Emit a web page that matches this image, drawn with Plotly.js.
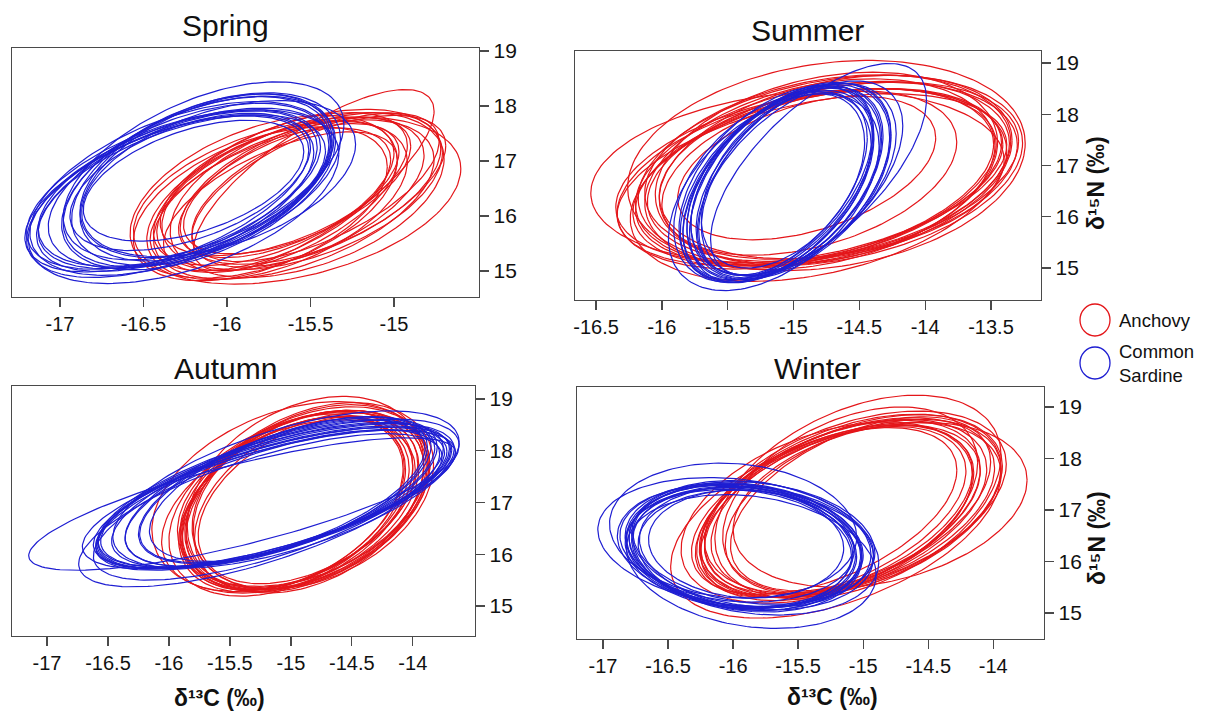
<!DOCTYPE html>
<html>
<head>
<meta charset="utf-8">
<script src="https://cdn.plot.ly/plotly-3.0.1.min.js"></script>
<style>html,body{margin:0;padding:0;background:#fff;}#chart{width:1210px;height:717px;}</style>
</head>
<body>
<div id="chart"></div>
<script>
// ---- Data: standard ellipses (centre, half-extent in x and y, correlation) ----
const panels = ["Spring", "Summer", "Autumn", "Winter"];
const species = ["Anchovy", "Common Sardine"];
const xTitle = "δ¹³C (‰)";
const yTitle = "δ¹⁵N (‰)";

// Spring - Anchovy
const springAnchovyCx = [-15.62,-15.74,-15.55,-15.68,-15.50,-15.78,-15.58,-15.70,-15.47,-15.80,-15.63,-15.52,-15.72,-15.60,-15.66,-15.45,-15.58,-15.48];
const springAnchovySx = [0.80,0.72,0.84,0.70,0.78,0.80,0.68,0.78,0.74,0.76,0.66,0.82,0.72,0.84,0.74,0.76,0.98,0.72];
const springAnchovyCy = [16.40,16.30,16.48,16.25,16.50,16.35,16.55,16.28,16.52,16.22,16.46,16.38,16.42,16.30,16.58,16.45,16.28,16.65];
const springAnchovySy = [1.40,1.30,1.46,1.28,1.38,1.48,1.24,1.44,1.35,1.40,1.22,1.50,1.32,1.45,1.30,1.38,1.52,1.65];
const springAnchovyR  = [0.50,0.56,0.46,0.60,0.52,0.45,0.58,0.49,0.62,0.48,0.58,0.44,0.55,0.50,0.54,0.60,0.38,0.76];
// Spring - Common Sardine
const springSardineCx = [-16.23,-16.32,-16.15,-16.27,-16.18,-16.36,-16.05,-16.28,-16.20,-16.34,-16.12,-16.25,-16.17,-16.30,-16.10,-16.22,-16.26,-16.14];
const springSardineSx = [0.84,0.88,0.78,0.86,0.80,0.85,0.82,0.90,0.66,0.86,0.76,0.88,0.82,0.84,0.78,0.72,0.93,0.84];
const springSardineCy = [16.55,16.48,16.66,16.44,16.62,16.40,16.68,16.50,16.64,16.36,16.70,16.52,16.60,16.45,16.74,16.62,16.35,16.82];
const springSardineSy = [1.50,1.45,1.56,1.40,1.55,1.42,1.42,1.58,1.10,1.48,1.52,1.44,1.58,1.46,1.50,1.25,1.58,1.62];
const springSardineR  = [0.50,0.54,0.46,0.53,0.48,0.56,0.44,0.51,0.48,0.54,0.46,0.52,0.48,0.55,0.44,0.50,0.49,0.52];

// Summer - Anchovy
const summerAnchovyCx = [-14.78,-14.84,-14.72,-14.82,-14.68,-14.88,-14.75,-14.90,-14.70,-14.80,-14.86,-14.74,-14.97,-14.75,-14.90,-14.81,-14.66,-14.88];
const summerAnchovySx = [1.42,1.36,1.46,1.40,1.34,1.47,1.30,1.44,1.41,1.33,1.48,1.39,1.57,1.51,0.98,1.43,1.36,1.12];
const summerAnchovyCy = [16.84,16.78,16.90,16.76,16.92,16.80,16.94,16.74,16.88,16.83,16.72,16.97,16.78,17.00,16.95,16.62,16.90,16.85];
const summerAnchovySy = [1.80,1.72,1.86,1.74,1.84,1.70,1.88,1.76,1.75,1.86,1.68,1.80,1.68,2.05,1.40,1.88,1.72,1.60];
const summerAnchovyR  = [0.33,0.37,0.29,0.39,0.31,0.36,0.27,0.38,0.34,0.30,0.41,0.28,0.19,0.21,0.42,0.35,0.29,0.38];
// Summer - Common Sardine
const summerSardineCx = [-15.07,-15.12,-15.02,-15.14,-15.04,-14.98,-15.16,-15.09,-15.00,-15.13,-15.06,-15.10,-15.03,-14.81,-15.15,-14.95,-15.08];
const summerSardineSx = [0.74,0.72,0.76,0.70,0.77,0.72,0.75,0.70,0.78,0.74,0.66,0.76,0.71,0.82,0.80,0.78,0.62];
const summerSardineCy = [16.66,16.62,16.70,16.60,16.68,16.72,16.58,16.65,16.74,16.64,16.69,16.61,16.67,16.92,16.48,16.75,16.70];
const summerSardineSy = [1.89,1.85,1.92,1.84,1.90,1.88,1.86,1.93,1.87,1.91,1.83,1.90,1.86,2.07,1.92,1.90,1.70];
const summerSardineR  = [0.47,0.49,0.45,0.51,0.46,0.48,0.44,0.50,0.47,0.46,0.52,0.48,0.49,0.66,0.47,0.54,0.44];

// Autumn - Anchovy
const autumnAnchovyCx = [-14.92,-14.97,-14.86,-15.00,-14.89,-14.84,-15.02,-14.93,-14.82,-14.98,-14.90,-14.88,-14.95,-15.00,-14.86,-15.03,-14.90,-14.85];
const autumnAnchovySx = [0.97,0.94,1.00,0.92,0.98,0.96,1.04,0.93,0.99,0.91,1.01,0.97,0.95,1.14,0.90,0.97,1.03,0.94];
const autumnAnchovyCy = [17.03,16.98,17.09,16.96,17.05,17.11,16.94,17.02,17.13,16.98,17.07,17.15,17.00,17.10,17.05,16.95,17.08,17.00];
const autumnAnchovySy = [1.72,1.67,1.76,1.69,1.73,1.78,1.66,1.74,1.80,1.68,1.71,1.90,1.67,1.85,1.62,1.76,1.70,1.73];
const autumnAnchovyR  = [0.38,0.40,0.36,0.41,0.37,0.35,0.42,0.39,0.34,0.41,0.38,0.32,0.40,0.34,0.43,0.39,0.37,0.40];
// Autumn - Common Sardine
const autumnSardineCx = [-15.11,-15.15,-15.08,-15.18,-15.05,-15.13,-15.20,-15.10,-15.02,-15.16,-15.09,-15.12,-15.25,-15.07,-15.14,-15.40,-15.04,-15.17];
const autumnSardineSx = [1.36,1.47,1.28,1.53,1.20,1.43,1.42,1.48,1.14,1.44,1.27,1.46,1.49,1.17,1.45,1.75,1.42,1.43];
const autumnSardineCy = [17.15,17.10,17.20,17.06,17.24,17.14,16.95,17.18,17.26,17.08,17.18,17.12,16.85,17.22,17.10,16.97,17.25,17.05];
const autumnSardineSy = [1.40,1.36,1.44,1.34,1.42,1.39,1.45,1.43,1.40,1.37,1.41,1.40,1.48,1.38,1.38,1.28,1.52,1.36];
const autumnSardineR  = [0.64,0.67,0.61,0.68,0.60,0.64,0.68,0.65,0.58,0.66,0.62,0.65,0.70,0.60,0.66,0.78,0.60,0.67];

// Winter - Anchovy
const winterAnchovyCx = [-15.15,-15.22,-15.08,-15.25,-15.05,-15.18,-15.28,-15.02,-15.12,-15.20,-15.06,-15.16,-14.87,-15.10,-15.21,-15.00,-15.30,-15.04];
const winterAnchovySx = [1.10,1.06,1.14,1.04,1.12,1.08,1.12,1.00,1.13,1.05,1.16,1.06,1.13,0.98,1.27,1.06,1.02,1.10];
const winterAnchovyCy = [17.03,16.98,17.08,16.96,17.10,17.02,16.95,17.12,17.05,16.94,17.15,17.01,17.10,17.20,16.80,17.06,16.98,17.25];
const winterAnchovySy = [1.73,1.68,1.78,1.66,1.75,1.72,1.76,1.69,1.74,1.70,1.77,1.64,1.60,1.80,1.90,1.70,1.62,1.98];
const winterAnchovyR  = [0.44,0.46,0.42,0.48,0.43,0.45,0.41,0.48,0.44,0.46,0.42,0.45,0.30,0.40,0.47,0.43,0.49,0.41];
// Winter - Common Sardine
const winterSardineCx = [-15.90,-15.94,-15.86,-15.96,-15.84,-15.91,-15.98,-15.87,-15.92,-15.83,-15.97,-15.89,-16.00,-15.86,-15.95,-15.82,-15.90,-15.97];
const winterSardineSx = [0.90,0.88,0.92,0.87,0.93,0.89,1.06,0.86,0.91,0.95,0.90,0.88,0.95,0.96,0.87,0.90,0.75,0.92];
const winterSardineCy = [16.30,16.26,16.34,16.24,16.36,16.28,16.38,16.22,16.32,16.20,16.36,16.24,16.60,16.00,16.30,16.26,16.34,16.29];
const winterSardineSy = [1.20,1.17,1.23,1.16,1.19,1.23,1.25,1.17,1.21,1.24,1.15,1.22,1.31,1.30,1.18,1.20,1.05,1.19];
const winterSardineR  = [-0.15,-0.13,-0.17,-0.12,-0.16,-0.14,-0.19,-0.11,-0.15,-0.18,-0.13,-0.16,-0.10,-0.20,-0.14,-0.15,-0.08,-0.17];

// Tick labels
const springXTicks = [-17, -16.5, -16, -15.5, -15];
const summerXTicks = [-16.5, -16, -15.5, -15, -14.5, -14, -13.5];
const autumnXTicks = [-17, -16.5, -16, -15.5, -15, -14.5, -14];
const winterXTicks = [-17, -16.5, -16, -15.5, -15, -14.5, -14];
const yTicks = [15, 16, 17, 18, 19];

// ---- Drawing ----
const W = 1210, H = 717;
const RED = 'rgb(228,22,26)', BLUE = 'rgb(30,30,210)';
const FONT = 'Liberation Sans, Arial, sans-serif';

function ellipseTrace(cx, cy, sx, sy, r, color, xa, ya, name) {
  const xs = [], ys = [];
  const N = 160;
  for (let k = 0; k < cx.length; k++) {
    const s = Math.sqrt(1 - r[k] * r[k]);
    for (let i = 0; i <= N; i++) {
      const t = 2 * Math.PI * i / N;
      xs.push(cx[k] + sx[k] * Math.cos(t));
      ys.push(cy[k] + sy[k] * (r[k] * Math.cos(t) + s * Math.sin(t)));
    }
    xs.push(null); ys.push(null);
  }
  return {type: 'scatter', mode: 'lines', x: xs, y: ys, xaxis: xa, yaxis: ya, name: name,
          line: {color: color, width: 1.2}, hoverinfo: 'skip', connectgaps: false, showlegend: false};
}

const traces = [
  ellipseTrace(springAnchovyCx, springAnchovyCy, springAnchovySx, springAnchovySy, springAnchovyR, RED, 'x', 'y', species[0]),
  ellipseTrace(springSardineCx, springSardineCy, springSardineSx, springSardineSy, springSardineR, BLUE, 'x', 'y', species[1]),
  ellipseTrace(summerAnchovyCx, summerAnchovyCy, summerAnchovySx, summerAnchovySy, summerAnchovyR, RED, 'x2', 'y2', species[0]),
  ellipseTrace(summerSardineCx, summerSardineCy, summerSardineSx, summerSardineSy, summerSardineR, BLUE, 'x2', 'y2', species[1]),
  ellipseTrace(autumnAnchovyCx, autumnAnchovyCy, autumnAnchovySx, autumnAnchovySy, autumnAnchovyR, RED, 'x3', 'y3', species[0]),
  ellipseTrace(autumnSardineCx, autumnSardineCy, autumnSardineSx, autumnSardineSy, autumnSardineR, BLUE, 'x3', 'y3', species[1]),
  ellipseTrace(winterAnchovyCx, winterAnchovyCy, winterAnchovySx, winterAnchovySy, winterAnchovyR, RED, 'x4', 'y4', species[0]),
  ellipseTrace(winterSardineCx, winterSardineCy, winterSardineSx, winterSardineSy, winterSardineR, BLUE, 'x4', 'y4', species[1])
];

function fmt(v) { return String(v); }
function xAxis(px0, px1, range, ticks, anchor) {
  return {domain: [px0 / W, px1 / W], range: range, anchor: anchor,
    showline: true, mirror: true, linecolor: '#4a4a4a', linewidth: 1.3,
    ticks: 'outside', ticklen: 9, tickwidth: 1.3, tickcolor: '#4a4a4a',
    tickvals: ticks, ticktext: ticks.map(fmt), tickfont: {family: FONT, size: 20, color: '#111'},
    showgrid: false, zeroline: false, fixedrange: true};
}
function yAxis(py0, py1, range, anchor) {
  return {domain: [1 - py1 / H, 1 - py0 / H], range: range, anchor: anchor, side: 'right',
    showline: true, mirror: true, linecolor: '#4a4a4a', linewidth: 1.3,
    ticks: 'outside', ticklen: 9, tickwidth: 1.3, tickcolor: '#4a4a4a',
    tickvals: yTicks, ticktext: yTicks.map(fmt), tickfont: {family: FONT, size: 21, color: '#111'},
    showgrid: false, zeroline: false, fixedrange: true};
}

function ann(text, px, py, size, opts) {
  return Object.assign({text: text, x: px / W, y: 1 - py / H, xref: 'paper', yref: 'paper',
    showarrow: false, xanchor: 'center', yanchor: 'middle',
    font: {family: FONT, size: size, color: '#111'}}, opts || {});
}

const boldFont = {family: FONT, size: 23, color: '#111', weight: 'bold'};
const layout = {
  width: W, height: H, margin: {l: 0, r: 0, t: 0, b: 0},
  paper_bgcolor: '#fff', plot_bgcolor: '#fff', showlegend: false,
  xaxis:  xAxis(12, 479, [-17.287, -14.491], springXTicks, 'y'),
  yaxis:  yAxis(48, 297, [14.525, 19.055], 'x'),
  xaxis2: xAxis(575, 1041, [-16.66, -13.12], summerXTicks, 'y2'),
  yaxis2: yAxis(51, 300, [14.376, 19.234], 'x2'),
  xaxis3: xAxis(12, 475, [-17.287, -13.49], autumnXTicks, 'y3'),
  yaxis3: yAxis(386, 636, [14.42, 19.251], 'x3'),
  xaxis4: xAxis(577, 1044, [-17.2, -13.61], winterXTicks, 'y4'),
  yaxis4: yAxis(387, 639, [14.495, 19.388], 'x4'),
  annotations: [
    ann(panels[0], 225, 25, 30),
    ann(panels[1], 807, 30, 30),
    ann(panels[2], 225, 369, 30),
    ann(panels[3], 817, 368, 30),
    ann(xTitle, 219, 698, 23, {font: boldFont}),
    ann(xTitle, 832, 697, 23, {font: boldFont}),
    ann(yTitle, 1096, 183, 23, {font: boldFont, textangle: -90}),
    ann(yTitle, 1097, 538, 23, {font: boldFont, textangle: -90}),
    ann(species[0], 1117, 320, 18.5, {xanchor: 'left'}),
    ann('Common<br>Sardine', 1117, 363, 18.5, {xanchor: 'left', align: 'left'})
  ],
  shapes: [
    {type: 'circle', xref: 'paper', yref: 'paper', x0: 1080 / W, x1: 1110 / W, y0: 1 - 336 / H, y1: 1 - 304 / H,
     line: {color: RED, width: 1.3}},
    {type: 'circle', xref: 'paper', yref: 'paper', x0: 1080 / W, x1: 1110 / W, y0: 1 - 379 / H, y1: 1 - 347 / H,
     line: {color: BLUE, width: 1.3}}
  ]
};

Plotly.newPlot('chart', traces, layout, {staticPlot: true, displayModeBar: false});
</script>
</body>
</html>
